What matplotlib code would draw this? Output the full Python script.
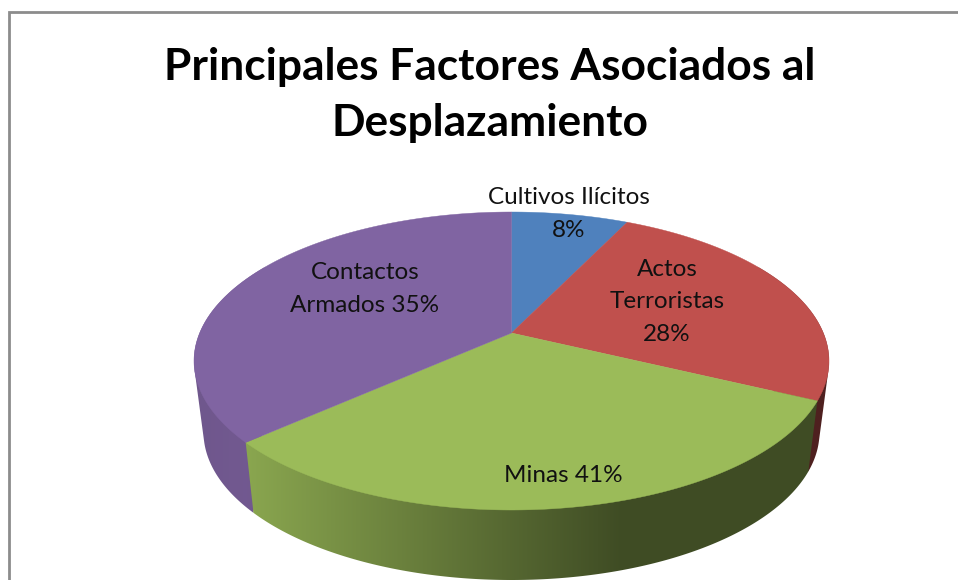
# -*- coding: utf-8 -*-
import numpy as np
import matplotlib
matplotlib.use("Agg")
import matplotlib.pyplot as plt
from matplotlib.patches import Polygon

# Daten
slice_values = [8, 28, 35, 41]     # Groesse der Sektoren im Bild (Reihenfolge im Uhrzeigersinn)
slice_colors = ['#4f81bd', '#c0504d', '#9bbb59', '#8064a2']
slice_labels = ['Cultivos Ilícitos\n8%', 'Actos\nTerroristas\n28%', 'Minas 41%', 'Contactos\nArmados 35%']
label_x = [569, 667, 563, 365]
label_y = [214, 302, 475, 289]
title_text = 'Principales Factores Asociados al\nDesplazamiento'

plt.rcParams['font.family'] = ['Lato', 'DejaVu Sans']


def project(theta, cx, cy, rx, ry, off):
    # Kreis -> Ellipse mit perspektivisch verschobenem Mittelpunkt (theta ab 12 Uhr, im Uhrzeigersinn)
    u = np.sin(theta)
    v = np.cos(theta)
    c = off / ry
    w = c * v + 1
    half = rx * np.sqrt(1 - c**2)
    return cx + half * u / w, cy - (ry * v + off) / w


def side_shade(x):
    return np.interp(x, [200, 246, 620, 958], [0.87, 0.89, 0.41, 0.41])


def hull(pts):
    # konvexe Huelle (monotone chain), der innere Teil liegt ohnehin unter der Deckflaeche
    pts = sorted(map(tuple, pts))

    def half(seq):
        out = []
        for p in seq:
            while len(out) > 1 and ((out[-1][0] - out[-2][0]) * (p[1] - out[-2][1])
                                    - (out[-1][1] - out[-2][1]) * (p[0] - out[-2][0])) <= 0:
                out.pop()
            out.append(p)
        return out[:-1]

    return np.array(half(pts) + half(pts[::-1]))


fig = plt.figure(figsize=(9.58, 5.80), dpi=100)
ax = fig.add_axes([0, 0, 1, 1])

top = (511.5, 361, 317.5, 149, 28)
bottom = (511.5, 432, 308, 148, 28)

shares = np.array(slice_values) / np.sum(slice_values)
edges = 2 * np.pi * np.concatenate([[0], np.cumsum(shares)])

# Seitenwand: Farbverlauf als Bild, auf die Sektorform beschnitten
grad_x = np.arange(958) + 0.5
for i, col in enumerate(slice_colors):
    t0 = max(edges[i], np.radians(60))
    t1 = min(edges[i + 1], np.radians(300))
    if t1 <= t0:
        continue
    ts = np.linspace(t0, t1, 200)
    xt, yt = project(ts, *top)
    xb, yb = project(ts, *bottom)
    verts = hull(np.column_stack([np.r_[xt, xb], np.r_[yt, yb]]))
    rgb = np.array(matplotlib.colors.to_rgb(col))
    grad = side_shade(grad_x)[None, :, None] * rgb[None, None, :]
    # vorderster Sektor zuletzt, sonst ragen die Huellen der Nachbarn hinein
    front = edges[i] <= np.pi <= edges[i + 1]
    img = ax.imshow(grad, extent=(0, 958, 580, 0), aspect='auto', zorder=2.5 if front else 2,
                    interpolation='bilinear')
    img.set_clip_path(Polygon(verts, transform=ax.transData))

# Deckflaeche
apex_x, apex_y = top[0], top[1] - top[4]
for i, col in enumerate(slice_colors):
    ts = np.linspace(edges[i], edges[i + 1], 200)
    xs, ys = project(ts, *top)
    ax.fill(np.r_[apex_x, xs], np.r_[apex_y, ys], color=col, lw=0.3, zorder=3)

for txt, x, y in zip(slice_labels, label_x, label_y):
    ax.text(x, y, txt, ha='center', va='center', fontsize=17.5, color='#111111',
            linespacing=1.7, zorder=5)

ax.text(490, 95, title_text, ha='center', va='center', fontsize=31.9, fontweight='bold',
        color='black', linespacing=1.49, zorder=5)

# Rahmen
ax.plot([9.5, 9.5, 958], [580, 11.5, 11.5], color='#8c8c8c', lw=2.0, solid_joinstyle='miter', zorder=1)

ax.set_xlim(0, 958)
ax.set_ylim(580, 0)
ax.axis('off')

fig.savefig('out.png', dpi=100)
